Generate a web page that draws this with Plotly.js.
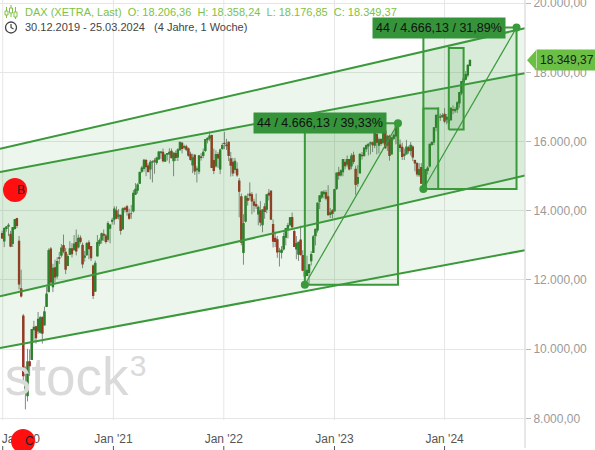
<!DOCTYPE html>
<html>
<head>
<meta charset="utf-8">
<script src="https://cdn.plot.ly/plotly-3.0.1.min.js"></script>
<style>
  html, body { margin: 0; padding: 0; background: #fff; }
  #chart { width: 595px; height: 450px; }
</style>
</head>
<body>
<div id="chart"></div>
<script>
// DAX (XETRA) weekly candles, [open, high, low, close]; each year starts on its first Monday
const start2020 = '2019-12-30';
const ohlc2020 = [
  [13337,13427,13186,13219],[13134,13524,12949,13483],[13493,13560,13398,13526],[13560,13641,13267,13577],
  [13319,13420,12948,12982],[13058,13530,12953,13513],[13493,13763,13452,13744],[13771,13795,13498,13579],
  [13118,13270,11725,11890],[11740,12297,11494,11541],[10952,11014,9050,9232],[8855,9500,8256,8929],
  [8656,10011,8490,9633],[9631,9990,9222,9525],[9708,10571,9700,10564],[10564,10820,10230,10626],
  [10642,10675,10160,10336],[10530,11075,10440,10862],[10490,10960,10450,10904],[10910,10950,10160,10465],
  [10700,11230,10700,11074],[11240,11800,11240,11587],[11665,12913,11665,12848],[12890,12951,11830,11949],
  [11805,12469,11650,12331],[12349,12586,11930,12089],[12116,12660,12030,12528],[12640,12811,12460,12633],
  [12720,13039,12650,12920],[12990,13313,12770,12838],[12798,12930,12170,12313],[12425,12750,12400,12674],
  [12750,13120,12730,12901],[12900,13060,12650,12765],[12880,13300,12850,13033],[13080,13460,12710,12842],
  [12960,13310,12910,13203],[13210,13290,13050,13116],[13000,13080,12340,12469],[12660,12840,12530,12689],
  [12730,13100,12700,13051],[13070,13150,12600,12909],[12960,12970,12550,12646],[12400,12450,11450,11556],
  [11680,12560,11680,12480],[12700,13300,12690,13077],[13060,13200,12980,13137],[13160,13370,13050,13335],
  [13320,13460,13130,13298],[13270,13330,13050,13114],[13180,13700,13100,13631],[13500,13600,13060,13587],
  [13700,13800,13600,13719]
];
const start2021 = '2021-01-04';
const ohlc2021 = [
  [13760,14132,13600,14050],[14000,14130,13760,13788],[13850,14050,13750,13873],[13860,13900,13310,13433],
  [13480,14100,13480,14057],[14070,14120,13950,14050],[14110,14170,13860,13993],[13900,14060,13740,13786],
  [13920,14170,13770,13920],[14000,14600,13950,14502],[14480,14800,14460,14621],[14600,14800,14500,14749],
  [14800,15120,14780,15107],[15150,15300,15090,15234],[15230,15500,15130,15460],[15450,15500,15000,15280],
  [15290,15370,15120,15136],[15210,15470,14910,15400],[15410,15460,14820,15417],[15440,15520,15070,15437],
  [15400,15560,15330,15520],[15500,15730,15480,15693],[15680,15730,15500,15693],[15690,15800,15400,15448],
  [15440,15650,15420,15608],[15640,15670,15450,15650],[15650,15810,15370,15688],[15720,15800,15520,15540],
  [15450,15670,15000,15669],[15650,15740,15440,15544],[15560,15810,15440,15761],[15770,15980,15730,15977],
  [15950,15990,15660,15808],[15840,15910,15770,15852],[15850,15910,15720,15781],[15790,15830,15560,15609],
  [15630,15710,15450,15490],[15330,15650,15090,15532],[15600,15640,15040,15156],[15190,15290,14820,15206],
  [15150,15600,15060,15587],[15550,15670,15450,15543],[15600,15800,15520,15688],[15750,16060,15700,16054],
  [16060,16120,15950,16094],[16100,16290,16020,16160],[16170,16200,15250,15257],[15450,15800,15060,15169],
  [15300,15750,15250,15623],[15620,15700,15240,15532],[15210,15800,15060,15756],[15800,15960,15780,15885]
];
const start2022 = '2022-01-03';
const ohlc2022 = [
  [15950,16285,15780,15948],[15900,16080,15760,15883],[15980,16000,15440,15603],[15500,15700,14990,15318],
  [15400,15530,15000,15100],[15200,15530,15080,15425],[15200,15400,14980,15042],[14860,14950,13810,14567],
  [14400,14500,13000,13094],[12800,13900,12440,13628],[13700,14440,13660,14413],[14350,14500,14150,14306],
  [14480,14820,14300,14446],[14460,14540,13900,14284],[14250,14350,13960,14164],[14180,14500,14050,14143],
  [13910,14150,13580,14098],[14000,14280,13550,13675],[13600,14030,13380,14027],[14110,14220,13770,13982],
  [14050,14480,13930,14462],[14500,14630,14300,14460],[14560,14600,13760,13762],[13600,13750,12940,13127],
  [13200,13400,12950,13118],[13160,13270,12640,12813],[12830,12930,12390,12834],[12800,12980,12620,12864],
  [12900,13370,12850,13254],[13240,13500,13000,13484],[13500,13650,13200,13574],[13600,13820,13550,13795],
  [13800,13950,13500,13544],[13400,13450,12960,12971],[12900,13270,12600,13050],[12750,13100,12550,13088],
  [13150,13570,12700,12741],[12700,12860,12250,12284],[12230,12400,11862.84,12114],[12130,12700,12130,12273],
  [12220,12450,11880,12437],[12560,12830,12420,12731],[12800,13300,12780,13243],[13280,13480,13000,13460],
  [13450,14230,13370,14224],[14270,14420,14050,14431],[14400,14560,14340,14541],[14500,14600,14360,14529],
  [14520,14600,14300,14370],[14400,14740,13860,13893],[13900,14080,13790,13941],[14000,14050,13780,13924]
];
const start2023 = '2023-01-02';
const ohlc2023 = [
  [14000,14640,13990,14610],[14650,15090,14600,15087],[15100,15270,14900,15033],[15040,15200,14990,15150],
  [15130,15490,15000,15476],[15400,15500,15200,15307],[15350,15600,15260,15482],[15480,15500,15170,15210],
  [15300,15660,15200,15578],[15600,15710,15350,15428],[15200,15300,14460,14768],[14800,15320,14700,14957],
  [15100,15660,15100,15629],[15600,15700,15480,15598],[15600,15830,15560,15808],[15800,15920,15700,15882],
  [15880,15950,15600,15922],[15960,16000,15630,15961],[15960,16000,15700,15914],[15900,16330,15810,16275],
  [16200,16300,15630,15984],[15900,16120,15660,16051],[16060,16100,15880,15950],[15980,16430,15920,16358],
  [16300,16300,15790,15829],[15900,16190,15730,16148],[16150,16200,15450,15603],[15650,16140,15630,16105],
  [16100,16240,16040,16177],[16170,16500,15920,16469],[16490,16528.97,15900,15952],[15900,16060,15700,15832],
  [15830,15970,15470,15574],[15600,15800,15470,15632],[15650,16050,15650,15840],[15820,15880,15650,15740],
  [15750,15990,15600,15894],[15840,15890,15440,15557],[15450,15480,15140,15387],[15360,15410,14990,15070],
  [15050,15380,14980,15187],[15250,15380,14780,14798],[14750,14970,14630.21,14687],[14700,15190,14700,15189],
  [15170,15290,15050,15234],[15300,15940,15250,15919],[15920,16010,15880,15967],[15990,16410,15900,16398],
  [16420,16780,16300,16759],[16750,17000,16650,16751],[16710,16810,16600,16706],[16720,16820,16700,16752]
];
const start2024 = '2024-01-01';
const ohlc2024 = [
  [16790,16970,16530,16594],[16650,16800,16500,16704],[16620,16650,16350,16555],[16640,16990,16600,16961],
  [16920,17050,16790,16918],[16900,17000,16830,16926],[16940,17170,16830,17117],[17120,17440,16980,17419],
  [17410,17750,17340,17735],[17720,17870,17610,17814],[17810,18040,17770,17936],[17930,18230,17860,18206],
  [18206.36,18358.24,18176.85,18349.37]
];

// x-axis labels
const yearTicks = ['2020-01-01','2021-01-01','2022-01-01','2023-01-02','2024-01-01'];
const yearLabels = ["Jan '20","Jan '21","Jan '22","Jan '23","Jan '24"];
const priceTicks = [8000,10000,12000,14000,16000,18000,20000];

// trend channels: values at the left and right edge of the time axis
const channelEdges = ['2019-12-23','2024-09-23'];
const channelOne = { upper: [15790, 19280], lower: [11530, 15020] };
const channelTwo = { upper: [15120, 17980], lower: [10030, 12860] };

// measuring tool: swing low -> swing high, then the same move projected from a later low
const measureFrom = '2022-09-26';
const measureTo = '2023-07-31';
const projectFrom = '2023-10-23';

// extra rectangles drawn on the chart
const rectangles = [
  { x0: '2023-10-23', x1: '2023-12-11', y0: 14630.21, y1: 16960 },
  { x0: '2024-01-15', x1: '2024-03-04', y0: 16350, y1: 18710 }
];

// ---------------------------------------------------------------------------
const DAY = 86400000;
function weeksFrom(iso, n) {
  const t0 = Date.parse(iso + 'T00:00:00Z');
  const out = [];
  for (let i = 0; i < n; i++) out.push(new Date(t0 + i * 7 * DAY).toISOString().slice(0, 10));
  return out;
}
const blocks = [[start2020, ohlc2020],[start2021, ohlc2021],[start2022, ohlc2022],[start2023, ohlc2023],[start2024, ohlc2024]];
const dates = [], open = [], high = [], low = [], close = [];
blocks.forEach(([s, rows]) => {
  weeksFrom(s, rows.length).forEach((d, i) => {
    dates.push(d); open.push(rows[i][0]); high.push(rows[i][1]); low.push(rows[i][2]); close.push(rows[i][3]);
  });
});
const bodyTop = open.map((o, i) => Math.max(o, close[i]));
const bodyBot = open.map((o, i) => Math.min(o, close[i]));

function de(v) {
  const [i, f] = v.toFixed(2).split('.');
  return i.replace(/\B(?=(\d{3})+(?!\d))/g, '.') + ',' + f;
}
function deDate(iso) { const [y, m, d] = iso.split('-'); return d + '.' + m + '.' + y; }

const GREEN = '#3a993a';
const W = 525, H = 420;                // plot area in px
const YR = [7951, 20095];
const px = x => x / W;
const py = y => 1 - y / H;
const pv = v => (v - YR[0]) / (YR[1] - YR[0]);

// measured move
const iFrom = dates.indexOf(measureFrom), iTo = dates.indexOf(measureTo), iProj = dates.indexOf(projectFrom);
const bars = iTo - iFrom;
const lowA = low[iFrom], highA = high[iTo], diff = highA - lowA;
const lowB = low[iProj], highB = lowB + diff;
const projEnd = new Date(Date.parse(projectFrom + 'T00:00:00Z') + bars * 7 * DAY).toISOString().slice(0, 10);
const labelA = bars + ' / ' + de(diff) + ' / ' + (diff / lowA * 100).toFixed(2).replace('.', ',') + '%';
const labelB = bars + ' / ' + de(diff) + ' / ' + (diff / lowB * 100).toFixed(2).replace('.', ',') + '%';

const traces = [];
// channel fills
[channelOne, channelTwo].forEach(c => {
  traces.push({
    type: 'scatter', mode: 'none', fill: 'toself', fillcolor: 'rgba(40,150,40,0.09)',
    x: [channelEdges[0], channelEdges[1], channelEdges[1], channelEdges[0]],
    y: [c.upper[0], c.upper[1], c.lower[1], c.lower[0]], hoverinfo: 'skip'
  });
});
// watermark
traces.push({ type: 'scatter', mode: 'text', x: ['2020-01-08'], y: [9060], text: ['stock'],
  textposition: 'middle right', textfont: { family: 'Liberation Sans, Arial', size: 53, color: '#dadada' }, hoverinfo: 'skip' });
traces.push({ type: 'scatter', mode: 'text', x: ['2021-02-24'], y: [9440], text: ['3'],
  textposition: 'middle right', textfont: { family: 'Liberation Sans, Arial', size: 30, color: '#dadada' }, hoverinfo: 'skip' });

// measure boxes
const boxes = [
  { x0: measureFrom, x1: measureTo, y0: lowA, y1: highA },
  { x0: projectFrom, x1: projEnd, y0: lowB, y1: highB }
].concat(rectangles);
boxes.forEach(b => {
  traces.push({
    type: 'scatter', mode: 'lines', fill: 'toself', fillcolor: 'rgba(50,150,50,0.10)',
    x: [b.x0, b.x1, b.x1, b.x0, b.x0], y: [b.y0, b.y0, b.y1, b.y1, b.y0],
    line: { color: GREEN, width: 2 }, hoverinfo: 'skip'
  });
});
// channel lines
[channelOne, channelTwo].forEach(c => {
  traces.push({
    type: 'scatter', mode: 'lines',
    x: [channelEdges[0], channelEdges[1], null, channelEdges[0], channelEdges[1]],
    y: [c.upper[0], c.upper[1], null, c.lower[0], c.lower[1]],
    line: { color: GREEN, width: 2 }, hoverinfo: 'skip'
  });
});

// wicks
traces.push({
  type: 'candlestick', x: dates, open: open, high: high, low: low, close: close,
  increasing: { line: { color: '#888', width: 1 }, fillcolor: '#888' },
  decreasing: { line: { color: '#888', width: 1 }, fillcolor: '#888' },
  hoverinfo: 'skip'
});
// bodies
traces.push({
  type: 'candlestick', x: dates, open: open, high: bodyTop, low: bodyBot, close: close,
  increasing: { line: { color: '#2b7f2b', width: 1.3 }, fillcolor: '#3db03d' },
  decreasing: { line: { color: '#a32f20', width: 1.3 }, fillcolor: '#de4a33' },
  hoverinfo: 'skip'
});

// diagonals + end points of the measured moves
[[measureFrom, lowA, measureTo, highA], [projectFrom, lowB, projEnd, highB]].forEach(m => {
  traces.push({ type: 'scatter', mode: 'lines+markers', x: [m[0], m[2]], y: [m[1], m[3]],
    line: { color: GREEN, width: 1.2 }, marker: { color: GREEN, size: 8 }, hoverinfo: 'skip' });
});

const shapes = [];
yearTicks.forEach(d => {
  shapes.push({ type: 'line', layer: 'below', xref: 'x', yref: 'paper', x0: d, x1: d, y0: 0, y1: 1,
    line: { color: '#e6e6e6', width: 1 } });
  shapes.push({ type: 'line', xref: 'x', yref: 'paper', x0: d, x1: d, y0: py(446), y1: py(450),
    line: { color: '#555', width: 1 } });
});
// right axis line
shapes.push({ type: 'line', xref: 'paper', yref: 'paper', x0: 1, x1: 1, y0: 1, y1: py(448),
  line: { color: '#d0d0d0', width: 1 } });
// last price pointer
const lp = pv(close[close.length - 1]);
shapes.push({ type: 'path', xref: 'paper', yref: 'paper',
  path: `M ${px(527)} ${lp} L ${px(536)} ${lp + 10 / H} L ${px(536)} ${lp - 10 / H} Z`,
  fillcolor: '#6cbf45', line: { width: 0 } });
// B / C markers
[[15, 190], [23, 441]].forEach(([cx, cy]) => {
  shapes.push({ type: 'circle', xref: 'paper', yref: 'paper', x0: px(cx - 12), x1: px(cx + 12),
    y0: py(cy + 12), y1: py(cy - 12), fillcolor: '#ff0f0f', line: { width: 0 } });
});
// header icons
const iconGreen = '#7dc242';
[[6.5, 7, 18, 11, 15], [11, 5, 17, 8, 13], [15.5, 7, 19, 12, 17]].forEach(([x, t, b, r0, r1]) => {
  shapes.push({ type: 'line', xref: 'paper', yref: 'paper', x0: px(x), x1: px(x), y0: py(t), y1: py(b), line: { color: iconGreen, width: 1 } });
  shapes.push({ type: 'rect', xref: 'paper', yref: 'paper', x0: px(x - 1.5), x1: px(x + 1.5), y0: py(r0), y1: py(r1), fillcolor: '#fff', line: { color: iconGreen, width: 1 } });
});
shapes.push({ type: 'circle', xref: 'paper', yref: 'paper', x0: px(5.5), x1: px(16.5), y0: py(33), y1: py(22),
  line: { color: '#444', width: 1.3 } });
shapes.push({ type: 'path', xref: 'paper', yref: 'paper',
  path: `M ${px(11)} ${py(24)} L ${px(11)} ${py(27.5)} L ${px(13.5)} ${py(29)}`, line: { color: '#444', width: 1.2 } });

const font = 'Liberation Sans, Arial, sans-serif';
const lastI = close.length - 1;
const annotations = [
  { xref: 'paper', yref: 'paper', x: px(23), y: py(12), xanchor: 'left', yanchor: 'middle', showarrow: false,
    text: 'DAX (XETRA, Last)\u00a0\u00a0O: ' + de(open[lastI]) + '\u00a0\u00a0H: ' + de(high[lastI]) +
          '\u00a0\u00a0L: ' + de(low[lastI]) + '\u00a0\u00a0C: ' + de(close[lastI]),
    font: { family: font, size: 11, color: iconGreen } },
  { xref: 'paper', yref: 'paper', x: px(23), y: py(27), xanchor: 'left', yanchor: 'middle', showarrow: false,
    text: deDate(dates[0]) + ' - ' + deDate(dates[lastI]) + '\u00a0\u00a0\u00a0(4 Jahre, 1 Woche)',
    font: { family: font, size: 11, color: '#444' } },
  { xref: 'x', yref: 'y', x: measureTo, y: highA, xanchor: 'right', yanchor: 'middle', xshift: -11, showarrow: false,
    text: labelA, bgcolor: '#35943a', borderpad: 3, font: { family: font, size: 12.5, color: '#111' } },
  { xref: 'x', yref: 'y', x: projEnd, y: highB, xanchor: 'right', yanchor: 'middle', xshift: -11, showarrow: false,
    text: labelB, bgcolor: '#35943a', borderpad: 3, font: { family: font, size: 12.5, color: '#111' } },
  { xref: 'paper', yref: 'paper', x: px(536), y: lp, xanchor: 'left', yanchor: 'middle', showarrow: false,
    text: de(close[lastI]), bgcolor: '#6cbf45', borderpad: 3, font: { family: font, size: 12, color: '#1a1a1a' } },
  { xref: 'paper', yref: 'paper', x: px(15), y: py(190), yanchor: 'middle', showarrow: false, text: 'B',
    font: { family: font, size: 12, color: '#222' } },
  { xref: 'paper', yref: 'paper', x: px(23), y: py(441), yanchor: 'middle', showarrow: false, text: 'C',
    font: { family: font, size: 12, color: '#222' } }
];

// x tick labels: first label sits right of its grid line
const tickPos = yearTicks.slice();
tickPos[0] = '2020-03-01';

const layout = {
  width: 595, height: 450,
  margin: { l: 0, r: 70, t: 0, b: 30, pad: 0 },
  paper_bgcolor: '#fff', plot_bgcolor: '#fff',
  separators: ',.',
  showlegend: false, hovermode: false,
  font: { family: font },
  xaxis: {
    type: 'date', range: channelEdges, showgrid: false, zeroline: false, showline: false,
    tickvals: tickPos, ticktext: yearLabels, ticks: 'outside', ticklen: 8, tickcolor: 'rgba(0,0,0,0)',
    tickfont: { size: 12, color: '#555' }, rangeslider: { visible: false }, fixedrange: true, automargin: false
  },
  yaxis: {
    side: 'right', range: YR, tickvals: priceTicks, tickformat: ',.2f',
    showgrid: true, gridcolor: '#e6e6e6', zeroline: false, showline: false,
    ticks: 'outside', ticklen: 5, tickcolor: '#bbb', tickfont: { size: 12, color: '#9a9a9a' },
    ticklabeloverflow: 'allow', fixedrange: true, automargin: false
  },
  shapes: shapes,
  annotations: annotations
};

Plotly.newPlot('chart', traces, layout, { staticPlot: true, displayModeBar: false });
</script>
</body>
</html>
